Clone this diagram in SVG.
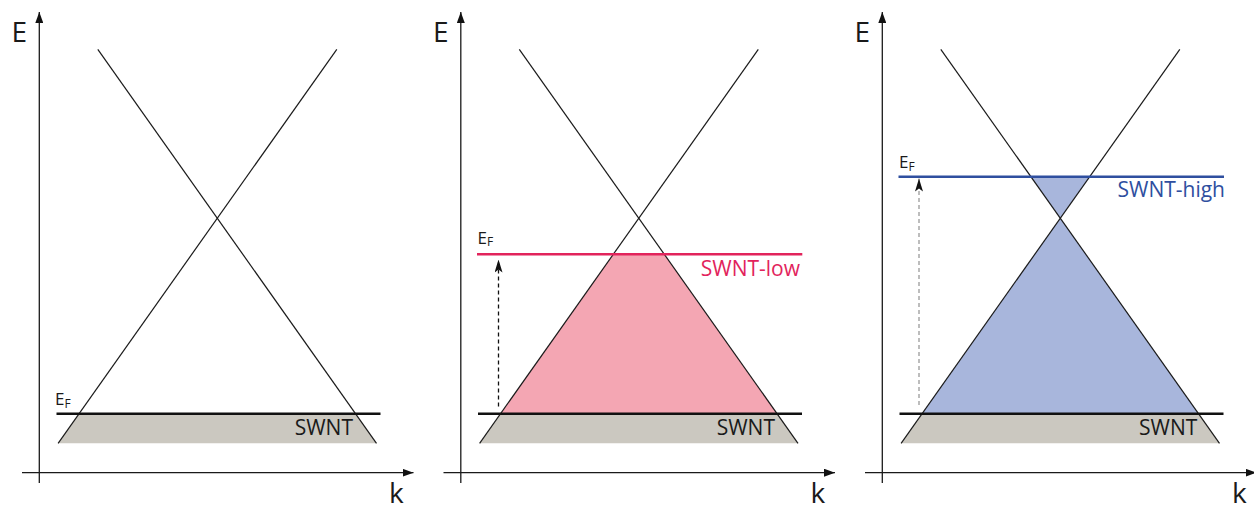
<svg xmlns="http://www.w3.org/2000/svg" width="1254" height="506" viewBox="0 0 1254 506">
<style>
.ax{stroke:#1a1a1a;stroke-width:1.3;fill:none}
.band{stroke:#1a1a1a;stroke-width:1.2;fill:none}
.ef{stroke:#111;stroke-width:2.4;fill:none}
.gray{fill:#cbc8c0}
.pink{fill:#f4a6b3}
.blue{fill:#a8b6dc}
.t{font-family:"Open Sans","Liberation Sans",sans-serif;fill:#1a1a1a}
.dash{stroke-width:1.3;stroke-dasharray:4 3;fill:none}
</style>
<defs>
<marker id="ah" viewBox="0 0 11 8" refX="11" refY="4" markerWidth="11" markerHeight="8" markerUnits="userSpaceOnUse" orient="auto">
<path d="M0,0 L11,4 L0,8 Z" fill="#111"/>
</marker>
<marker id="dh" viewBox="0 0 13 8" refX="13" refY="4" markerWidth="13" markerHeight="8" markerUnits="userSpaceOnUse" orient="auto">
<path d="M0,0 L13,4 L0,8 L3,4 Z" fill="#111"/>
</marker>
<g id="axes">
<line class="ax" x1="39.3" y1="483" x2="39.3" y2="12" marker-end="url(#ah)"/>
<line class="ax" x1="22" y1="472.7" x2="413.5" y2="472.7" marker-end="url(#ah)"/>
<text class="t" font-size="28" x="11.5" y="41.7">E</text>
<text class="t" font-size="28" x="389" y="503">k</text>
</g>
<g id="bands">
<line class="band" x1="97.8" y1="49.3" x2="376.5" y2="443.3"/>
<line class="band" x1="336.8" y1="49.3" x2="58.1" y2="443.3"/>
</g>
</defs>

<g id="panel1">
<polygon class="gray" points="79,413.7 355.6,413.7 376.5,443.3 58.1,443.3"/>
<use href="#bands"/>
<use href="#axes"/>
<line class="ef" x1="56.5" y1="413.7" x2="380.5" y2="413.7"/>
<text class="t" font-size="17" x="55" y="405">E<tspan font-size="12" dy="2.5">F</tspan></text>
<text class="t" font-size="21" x="353" y="435" text-anchor="end">SWNT</text>
</g>

<g id="panel2" transform="translate(421.5,0)">
<polygon class="gray" points="79,413.7 355.6,413.7 376.5,443.3 58.1,443.3"/>
<polygon class="pink" points="191.8,254.3 242.8,254.3 355.6,413.7 79,413.7"/>
<use href="#bands"/>
<use href="#axes"/>
<line class="ef" x1="56.5" y1="413.7" x2="380.5" y2="413.7"/>
<line class="ef" style="stroke:#e2245c" x1="55.5" y1="254.3" x2="380.8" y2="254.3"/>
<line class="dash" style="stroke:#111" x1="77" y1="406.5" x2="77" y2="259.5" marker-end="url(#dh)"/>
<text class="t" font-size="17" x="56" y="243.5">E<tspan font-size="12" dy="2.5">F</tspan></text>
<text class="t" font-size="21" x="353.5" y="435" text-anchor="end">SWNT</text>
<text class="t" font-size="21" style="fill:#e2245c" x="378.5" y="275.5" text-anchor="end">SWNT-low</text>
</g>

<g id="panel3" transform="translate(843,0)">
<polygon class="gray" points="79,413.7 355.6,413.7 376.5,443.3 58.1,443.3"/>
<polygon class="blue" points="187.9,176.7 246.7,176.7 217.3,218.2"/>
<polygon class="blue" points="217.3,218.2 355.6,413.7 79,413.7"/>
<use href="#bands"/>
<use href="#axes"/>
<line class="ef" x1="56.5" y1="413.7" x2="380.5" y2="413.7"/>
<line class="ef" style="stroke:#2f4f9f" x1="55.5" y1="176.7" x2="381" y2="176.7"/>
<line class="dash" style="stroke:#9a9a9a" x1="76" y1="405" x2="76" y2="178.5" marker-end="url(#dh)"/>
<text class="t" font-size="17" x="56" y="168.3">E<tspan font-size="12" dy="2.5">F</tspan></text>
<text class="t" font-size="21" x="354.3" y="435" text-anchor="end">SWNT</text>
<text class="t" font-size="21" style="fill:#2f4f9f" x="382" y="196.7" text-anchor="end">SWNT-high</text>
</g>
</svg>
